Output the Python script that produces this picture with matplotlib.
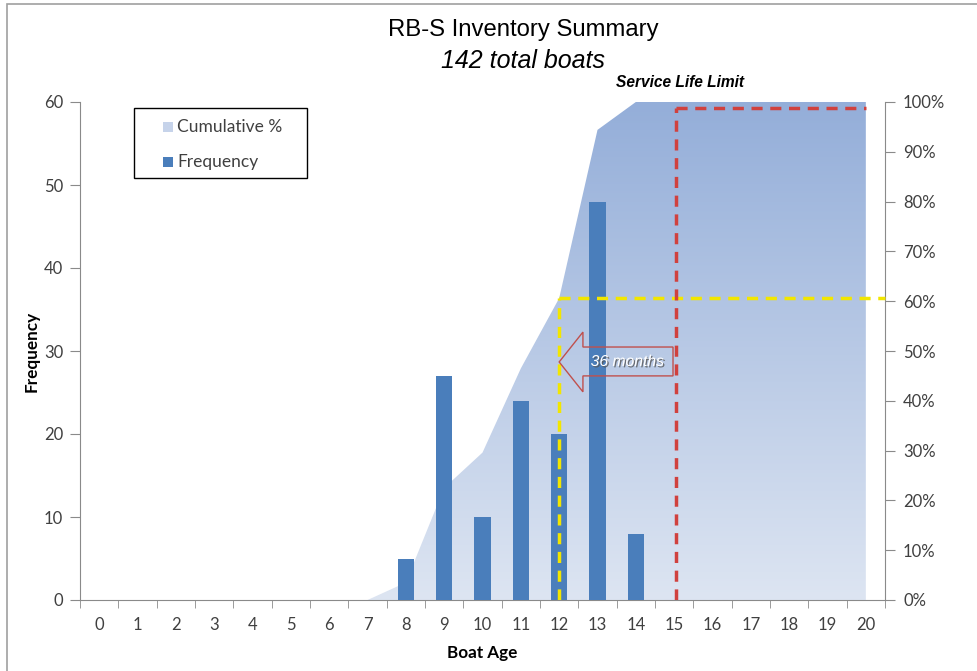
import numpy as np
import matplotlib
matplotlib.use("Agg")
import matplotlib.pyplot as plt
from matplotlib.colors import LinearSegmentedColormap
from matplotlib.patches import Polygon, Rectangle
import matplotlib.patheffects as pe

# DATA
ages = list(range(21))
frequency = [0, 0, 0, 0, 0, 0, 0, 0, 5, 27, 10, 24, 20, 48, 8, 0, 0, 0, 0, 0, 0]
cumulative_pct = [0, 0, 0, 0, 0, 0, 0, 0, 3.5, 22.5, 29.6, 46.5, 60.6, 94.4,
                  100, 100, 100, 100, 100, 100, 100]
freq_ticks = [0, 10, 20, 30, 40, 50, 60]
pct_ticks = [0, 10, 20, 30, 40, 50, 60, 70, 80, 90, 100]
legend_labels = ["Cumulative %", "Frequency"]

W, H = 977, 671
fig = plt.figure(figsize=(W / 100, H / 100), dpi=100)
fig.patch.set_facecolor("white")

# axes placed in pixel terms
L, R, T, B = 80, 885, 102, 600
ax1 = fig.add_axes([L / W, 1 - B / H, (R - L) / W, (B - T) / H])
ax2 = ax1.twinx()
ax1.set_zorder(ax2.get_zorder() + 1)
ax1.patch.set_visible(False)

AXIS_GREY = "#8a8a8a"
TXT = "#404040"
BAR_BLUE = "#4a7ebb"
tick_font = dict(family="Lato", size=12, color=TXT)

# CUMULATIVE AREA WITH GRADIENT (secondary axis)
grad_cmap = LinearSegmentedColormap.from_list("g", ["#dde5f2", "#94aed9"])
area = ax2.fill_between(ages, cumulative_pct, 0, color="none", lw=0)
grad = np.linspace(0, 1, 256).reshape(-1, 1)
im = ax2.imshow(grad, extent=[-0.5, 20.5, 0, 100], origin="lower", aspect="auto",
                cmap=grad_cmap, zorder=1)
im.set_clip_path(area.get_paths()[0], transform=ax2.transData)
ax2.set_ylim(0, 100)
ax2.set_xlim(-0.5, 20.5)

# FREQUENCY BARS (primary axis)
ax1.bar(ages, frequency, width=0.42, color=BAR_BLUE, zorder=3)
ax1.set_xlim(-0.5, 20.5)
ax1.set_ylim(0, 60)

# ticks
ax1.set_xticks(ages)
ax1.set_xticklabels([str(a) for a in ages], **tick_font)
ax1.set_xticks(np.arange(-0.5, 21, 1), minor=True)
ax1.tick_params(axis="x", which="major", length=0, pad=12)
ax1.tick_params(axis="x", which="minor", length=6, color=AXIS_GREY, direction="out")
ax1.set_yticks(freq_ticks)
ax1.set_yticklabels([str(v) for v in freq_ticks], **tick_font)
ax1.tick_params(axis="y", length=7, color=AXIS_GREY, pad=5)
ax2.set_yticks(pct_ticks)
ax2.set_yticklabels([f"{v}%" for v in pct_ticks], **tick_font)
ax2.tick_params(axis="y", length=7, color=AXIS_GREY, pad=6)

for ax in (ax1, ax2):
    ax.spines["top"].set_visible(False)
    for s in ("left", "right", "bottom"):
        ax.spines[s].set_color(AXIS_GREY)
ax1.spines["right"].set_visible(False)
ax2.spines["left"].set_visible(False)
ax2.spines["bottom"].set_visible(False)

ax1.set_xlabel("Boat Age", family="Lato", weight="bold", size=12.3, color="black", labelpad=9)
ax1.set_ylabel("Frequency", family="Lato", weight="bold", size=12.3, color="black", labelpad=0)
ax1.yaxis.set_label_coords(-(L - 40) / (R - L), 0.5)

# GUIDE LINES (x in data, y as fraction of the percent axis)
tr = ax1.get_xaxis_transform()
yel = "#f2e600"
red = "#d0413e"
dash = (0, (3.2, 2.2))
ax1.plot([12, 12], [0, 0.606], transform=tr, color=yel, lw=2.5, ls=dash, zorder=5)
ax1.plot([12, 20.5], [0.606, 0.606], transform=tr, color=yel, lw=2.5, ls=dash,
         zorder=5, clip_on=False)
ax1.plot([15.05, 15.05], [0, 0.988], transform=tr, color=red, lw=2.5, ls=dash, zorder=5)
ax1.plot([15.05, 20], [0.988, 0.988], transform=tr, color=red, lw=2.5, ls=dash, zorder=5)

# 36 months arrow
arrow = Polygon([(12.0, 0.478), (12.62, 0.538), (12.62, 0.508), (14.97, 0.508),
                 (14.97, 0.450), (12.62, 0.450), (12.62, 0.418)],
                closed=True, transform=tr, facecolor="none", edgecolor="#c0504d",
                lw=1, zorder=6)
ax1.add_patch(arrow)
ax1.text(13.78, 0.479, "36 months", transform=tr, ha="center", va="center",
         family="Liberation Sans", style="italic", size=11.3, color="white", zorder=7,
         path_effects=[pe.withSimplePatchShadow(offset=(1, -1), shadow_rgbFace="#555555", alpha=0.8)])

ax1.text(15.15, 1.025, "Service Life Limit", transform=tr, ha="center", va="bottom",
         family="Liberation Sans", style="italic", weight="bold", size=11.2, color="black")

# TITLE
fig.text(523 / W, 1 - 30 / H, "RB-S Inventory Summary", ha="center", va="center",
         family="Liberation Sans", size=17.2, color="black")
fig.text(523 / W, 1 - 61 / H, "142 total boats", ha="center", va="center",
         family="Liberation Sans", style="italic", size=18, color="black")

# LEGEND (drawn by hand in figure pixels to match the box)
def px(x, y):
    return x / W, 1 - y / H

fig.patches.append(Rectangle(px(134, 178), 173 / W, 70 / H, transform=fig.transFigure,
                             facecolor="white", edgecolor="black", lw=1, zorder=10))
legend_colors = ["#c6d3ea", BAR_BLUE]
for i, (lab, col) in enumerate(zip(legend_labels, legend_colors)):
    yc = 127 + i * 35
    fig.patches.append(Rectangle(px(163, yc + 5), 10 / W, 10 / H, transform=fig.transFigure,
                                 facecolor=col, edgecolor="none", zorder=11))
    fig.text(*px(177, yc), lab, ha="left", va="center", family="Lato", size=12.5,
             color=TXT, zorder=12)

# outer frame
fig.patches.append(Rectangle((7 / W, -0.05), 1.2, 1 - 4 / H + 0.05, transform=fig.transFigure,
                             fill=False, edgecolor="#a0a0a0", lw=1.2))

fig.savefig("out.png", dpi=100)
